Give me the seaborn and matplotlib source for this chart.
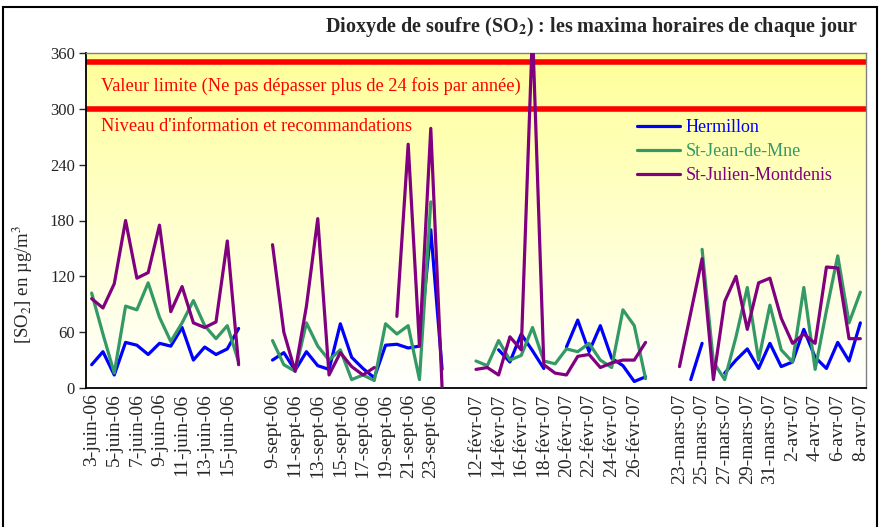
import numpy as np
import pandas as pd
import seaborn as sns
import matplotlib.pyplot as plt
from matplotlib.colors import LinearSegmentedColormap
from matplotlib.patches import Rectangle

nan = np.nan

# category axis: four campaigns separated by two empty slots
campaigns = [("juin-06", 3, 16), ("sept-06", 9, 24), ("févr-07", 12, 27),
             ("mars-07", 23, 31), ("avr-07", 1, 8)]
blank_after = ["juin-06", "sept-06", "févr-07"]

# daily hourly maxima of SO2 (µg/m3), nan = no measurement
hermillon = [25, 39, 14, 49, 46, 36, 48, 45, 65, 30, 44, 36, 42, 64,
             nan, nan,
             30, 38, 19, 39, 24, 20, 69, 33, 21, 11, 46, 47, 43, 45, 170, 20,
             nan, nan,
             nan, nan, 41, 28, 58, 40, 21, nan, 44, 73, 39, 67, 32, 24, 7, 12,
             nan, nan,
             nan, 9, 48, nan, 16, 30, 42, 21, 48, 23, 28, 63, 33, 21, 49, 29, 70]
st_jean = [102, 58, 16, 88, 84, 113, 76, 50, 70, 94, 67, 53, 67, 28,
           nan, nan,
           51, 25, 18, 70, 45, 30, 41, 9, 14, 8, 69, 58, 67, 9, 200, nan,
           nan, nan,
           29, 24, 51, 30, 35, 65, 29, 26, 42, 39, 48, 30, 22, 84, 67, 10,
           nan, nan,
           nan, nan, 149, 28, 9, 55, 108, 30, 89, 41, 28, 108, 20, 83, 142, 70, 103]
st_julien = [96, 86, 112, 180, 118, 124, 175, 82, 109, 70, 65, 71, 158, 25,
             nan, nan,
             154, 60, 18, 88, 182, 14, 38, 23, 14, 22, nan, 77, 262, 45, 279, 0,
             nan, nan,
             20, 22, 14, 55, 41, 385, 25, 16, 14, 34, 36, 22, 27, 30, 30, 49,
             nan, nan,
             23, 81, 139, 9, 93, 120, 63, 113, 118, 75, 48, 58, 48, 130, 129, 53, 53]

stations = ["Hermillon", "St-Jean-de-Mne", "St-Julien-Montdenis"]
colors = ["#0000FF", "#339966", "#800080"]

labels = []
for month, d0, d1 in campaigns:
    labels += [f"{d}-{month}" for d in range(d0, d1 + 1)]
    if month in blank_after:
        labels += ["", ""]

# long table, one "run" per unbroken stretch so gaps stay open
rows = []
for name, vals in zip(stations, [hermillon, st_jean, st_julien]):
    run = 0
    prev_ok = False
    for i, v in enumerate(vals):
        ok = not np.isnan(v)
        if ok and not prev_ok:
            run += 1
        if ok:
            rows.append({"idx": i, "value": v, "station": name, "run": f"{name}{run}"})
        prev_ok = ok
df = pd.DataFrame(rows)

sns.set_theme(style="white")
plt.rcParams["font.family"] = ["Liberation Serif", "DejaVu Serif"]
plt.rcParams["mathtext.fontset"] = "stix"

fig = plt.figure(figsize=(8.8, 5.27), dpi=100)
ax = fig.add_axes([86 / 880, 1 - 388 / 527, 780 / 880, 335 / 527])

# yellow to white background of plot area
bg = LinearSegmentedColormap.from_list("bg", ["#FFFFFF", "#FFFF99"])
ax.imshow(np.linspace(1, 0, 256).reshape(-1, 1), extent=(-0.5, len(labels) - 0.5, 0, 360),
          aspect="auto", cmap=bg, zorder=0)

ax.axhline(350, color="#FF0000", lw=4, zorder=2)
ax.axhline(300, color="#FF0000", lw=4, zorder=2)
ax.text(0.8, 325, "Valeur limite (Ne pas dépasser plus de 24 fois par année)",
        color="#FF0000", fontsize=13.2, va="center", zorder=3)
ax.text(0.8, 281, "Niveau d'information et recommandations",
        color="#FF0000", fontsize=13.2, va="center", zorder=3)

sns.lineplot(data=df, x="idx", y="value", hue="station", units="run", estimator=None,
             palette=colors, hue_order=stations, linewidth=2.3, sort=False, ax=ax, zorder=4)

ax.set_xlim(-0.5, len(labels) - 0.5)
ax.set_ylim(0, 360)
ax.set_yticks(range(0, 361, 60))
ax.set_xticks(range(0, len(labels), 2))
ax.set_xticklabels(labels[::2], rotation=90, fontsize=14)
ax.tick_params(axis="y", labelsize=12, length=5, width=1, direction="out", left=True, pad=3)
ax.tick_params(axis="x", length=0, pad=4)
ax.set_xlabel("")
ax.set_ylabel("[SO$_2$] en µg/m$^3$", fontsize=13.5)
ax.yaxis.set_label_coords(-0.066, 0.31)

for s in ["left", "bottom"]:
    ax.spines[s].set_color("black")
    ax.spines[s].set_linewidth(1.3)
for s in ["top", "right"]:
    ax.spines[s].set_color("#808080")
    ax.spines[s].set_linewidth(1)

ax.legend(loc="upper left", bbox_to_anchor=(0.685, 0.85), frameon=False, fontsize=13,
          handlelength=2.4, labelspacing=0.38, labelcolor="linecolor", handletextpad=0.3)

fig.text(858 / 880, 1 - 27 / 527, r"Dioxyde de soufre (SO$_\mathbf{2}$) : les maxima horaires de chaque jour",
         ha="right", va="center", fontsize=14.5, fontweight="bold")

# frame around the whole chart
fig.patches.append(Rectangle((3 / 880, -0.02), 874 / 880, 1.02 - 7 / 527, transform=fig.transFigure,
                             fill=False, edgecolor="black", linewidth=1.5))

fig.savefig("out.png", dpi=100)
